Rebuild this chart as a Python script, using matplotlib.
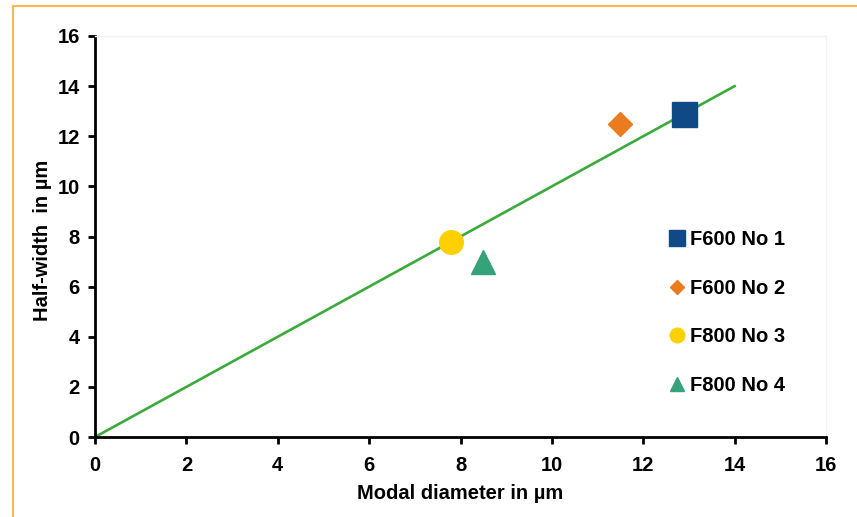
import matplotlib
matplotlib.use("Agg")
import matplotlib.pyplot as plt
from matplotlib.lines import Line2D

plt.rcParams['font.family'] = ['Liberation Sans', 'DejaVu Sans']
plt.rcParams['font.weight'] = 'bold'

# data
labels = ['F600 No 1', 'F600 No 2', 'F800 No 3', 'F800 No 4']
modal_d = [12.9, 11.5, 7.8, 8.5]
half_w = [12.9, 12.5, 7.8, 7.0]
markers = ['s', 'D', 'o', '^']
sizes = [18, 12, 17, 17]
colors = ['#0f4a87', '#ec7a1f', '#ffd000', '#35a27a']

fit_x = [0, 14]
fit_y = [0, 14]

fig = plt.figure(figsize=(8.57, 5.17), dpi=100)
ax = fig.add_axes([0.1109, 0.1547, 0.8529, 0.7757])

ax.plot(fit_x, fit_y, color='#3aab3a', lw=1.9, zorder=2)
for x, y, m, s, c, lab in zip(modal_d, half_w, markers, sizes, colors, labels):
    ax.plot([x], [y], linestyle='none', marker=m, ms=s, color=c, mec=c,
            label=lab, zorder=3)

ax.set_xlim(0, 16)
ax.set_ylim(0, 16)
ax.set_xticks(range(0, 17, 2))
ax.set_yticks(range(0, 17, 2))

for side in ['top', 'right']:
    ax.spines[side].set_color('#f2f2f2')
    ax.spines[side].set_linewidth(1)
for side in ['left', 'bottom']:
    ax.spines[side].set_linewidth(2)
ax.tick_params(axis='both', direction='out', length=5, width=2,
               labelsize=14.5, top=False, right=False)
ax.tick_params(axis='x', pad=9)
ax.tick_params(axis='y', pad=6)

ax.set_xlabel('Modal diameter in µm', fontsize=14.5, fontweight='bold')
ax.set_ylabel('Half-width  in µm', fontsize=14.5, fontweight='bold')
ax.xaxis.set_label_coords(0.5, -0.142)
ax.xaxis.label.set_va('center')
ax.yaxis.set_label_coords(-0.0725, 0.49)
ax.yaxis.label.set_va('center')

leg = ax.legend(loc='center left', bbox_to_anchor=(0.781, 0.3955),
                bbox_transform=fig.transFigure, frameon=False,
                prop={'size': 14.5, 'weight': 'bold'},
                handlelength=0.75, handletextpad=0.3, labelspacing=1.48,
                borderpad=0, borderaxespad=0, markerscale=0.62)

# orange frame on the top and left
fig.add_artist(Line2D([12.5 / 857, 1], [1 - 6 / 517, 1 - 6 / 517],
                      transform=fig.transFigure, color='#f8b84e', lw=1.5))
fig.add_artist(Line2D([12.5 / 857, 12.5 / 857], [0, 1 - 6 / 517],
                      transform=fig.transFigure, color='#f8b84e', lw=1.5))

fig.savefig('out.png', dpi=100)
